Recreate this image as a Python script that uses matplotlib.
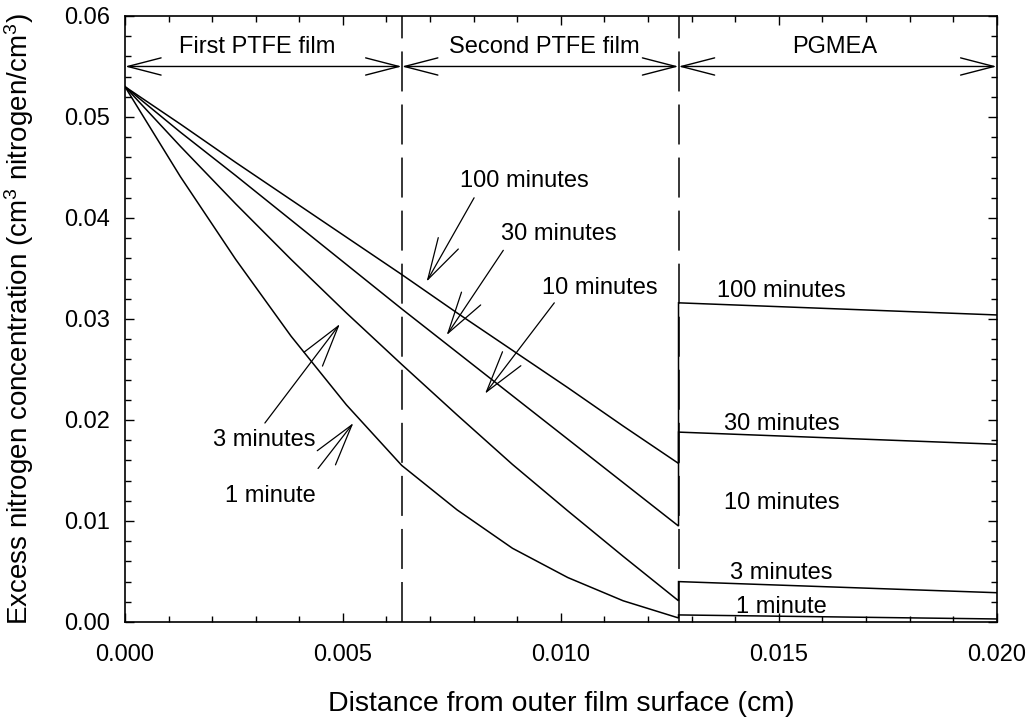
import matplotlib
matplotlib.use('Agg')
import matplotlib.pyplot as plt
from matplotlib.ticker import MultipleLocator, FormatStrFormatter

plt.rcParams['font.family'] = ['Liberation Sans', 'DejaVu Sans']
plt.rcParams['mathtext.default'] = 'regular'
plt.rcParams['lines.scale_dashes'] = False

# ---- data ----
x_film = [0.0, 0.00127, 0.00254, 0.00381, 0.00508, 0.00635,
          0.00762, 0.00889, 0.01016, 0.01143, 0.0127]
c100_film = [0.053, 0.0493, 0.0455, 0.0418, 0.0381, 0.0344,
             0.0306, 0.0269, 0.0232, 0.0194, 0.0157]
c30_film = [0.053, 0.0485, 0.0442, 0.0398, 0.0354, 0.0310,
            0.0267, 0.0224, 0.0181, 0.0138, 0.0095]
c3_film = [0.053, 0.0471, 0.0414, 0.0359, 0.0306, 0.0255,
           0.0205, 0.0156, 0.0110, 0.0065, 0.0021]
c1_film = [0.053, 0.0441, 0.0359, 0.0283, 0.0215, 0.0155,
           0.0111, 0.0073, 0.0044, 0.0021, 0.0004]

x_pgmea = [0.0127, 0.020]
c100_pg = [0.0316, 0.0304]
c30_pg = [0.0188, 0.0176]
c3_pg = [0.0040, 0.0029]
c1_pg = [0.0007, 0.0003]

layer_bounds = [0.0, 0.00635, 0.0127, 0.020]
layer_names = ['First PTFE film', 'Second PTFE film', 'PGMEA']
layer_label_x = [0.00304, 0.00961, 0.01628]
layer_arrow_y = 0.055
layer_label_y = 0.0563

# film-region labels: text, text x, text baseline y, arrow tail, arrow tip
film_labels = ['100 minutes', '30 minutes', '10 minutes', '3 minutes', '1 minute']
film_text_x = [0.00917, 0.00995, 0.01089, 0.00320, 0.00333]
film_text_y = [0.0431, 0.0378, 0.0325, 0.0174, 0.0119]
arrow_tail_x = [0.00801, 0.00868, 0.00985, 0.00321, 0.00443]
arrow_tail_y = [0.0420, 0.0368, 0.0316, 0.0197, 0.0152]
arrow_tip_x = [0.00692, 0.00738, 0.00826, 0.00493, 0.00524]
arrow_tip_y = [0.0337, 0.0284, 0.0226, 0.0295, 0.0197]

# PGMEA-region labels
pg_labels = ['100 minutes', '30 minutes', '10 minutes', '3 minutes', '1 minute']
pg_text_x = 0.01506
pg_text_y = [0.0322, 0.0190, 0.0112, 0.0043, 0.0009]

# ---- figure ----
fig = plt.figure(figsize=(10.32, 7.23), dpi=100)
ax = fig.add_axes([0.1211, 0.1397, 0.9658 - 0.1211, 0.9779 - 0.1397])

lw = 1.1
for yf, yp in [(c100_film, c100_pg), (c30_film, c30_pg),
               (c3_film, c3_pg), (c1_film, c1_pg)]:
    ax.plot(x_film + x_pgmea, yf + yp, color='black', lw=lw,
            solid_joinstyle='miter')

# dashed layer boundaries
for xb in layer_bounds[1:3]:
    ax.plot([xb, xb], [0, 0.06], color='black', lw=1.1, dashes=(28.8, 9.4))

# double-headed layer arrows
for i in range(3):
    ax.annotate('', xy=(layer_bounds[i + 1], layer_arrow_y),
                xytext=(layer_bounds[i], layer_arrow_y),
                arrowprops=dict(arrowstyle='<->,head_length=2.4,head_width=0.62',
                                color='black', lw=1.0, shrinkA=0, shrinkB=0,
                                mutation_scale=10))
    ax.text(layer_label_x[i], layer_label_y, layer_names[i], ha='center',
            va='baseline', fontsize=17)

fs = 17
for i, lab in enumerate(film_labels):
    ax.text(film_text_x[i], film_text_y[i], lab, ha='center', va='baseline',
            fontsize=fs)
    ax.annotate('', xy=(arrow_tip_x[i], arrow_tip_y[i]),
                xytext=(arrow_tail_x[i], arrow_tail_y[i]),
                arrowprops=dict(arrowstyle='->,head_length=3.0,head_width=0.83',
                                color='black', lw=0.9, shrinkA=0, shrinkB=0,
                                mutation_scale=10))

for i, lab in enumerate(pg_labels):
    ax.text(pg_text_x, pg_text_y[i], lab, ha='center', va='baseline', fontsize=fs)

ax.set_xlim(0, 0.020)
ax.set_ylim(0, 0.06)
ax.xaxis.set_major_locator(MultipleLocator(0.005))
ax.xaxis.set_minor_locator(MultipleLocator(0.001))
ax.yaxis.set_major_locator(MultipleLocator(0.01))
ax.yaxis.set_minor_locator(MultipleLocator(0.002))
ax.xaxis.set_major_formatter(FormatStrFormatter('%.3f'))
ax.yaxis.set_major_formatter(FormatStrFormatter('%.2f'))

ax.tick_params(which='both', direction='in', top=True, right=True,
               width=1.0, color='black')
ax.tick_params(which='major', length=6.2, labelsize=17)
ax.tick_params(which='minor', length=4.3)
ax.tick_params(axis='x', which='major', pad=16)
ax.tick_params(axis='y', which='major', pad=10.8)
for sp in ax.spines.values():
    sp.set_linewidth(1.2)

ax.set_xlabel('Distance from outer film surface (cm)', fontsize=20.5, labelpad=18)
ax.set_ylabel('Excess nitrogen concentration (cm$^3$ nitrogen/cm$^3$)',
              fontsize=20, labelpad=20)

fig.savefig('out.png', dpi=100)
